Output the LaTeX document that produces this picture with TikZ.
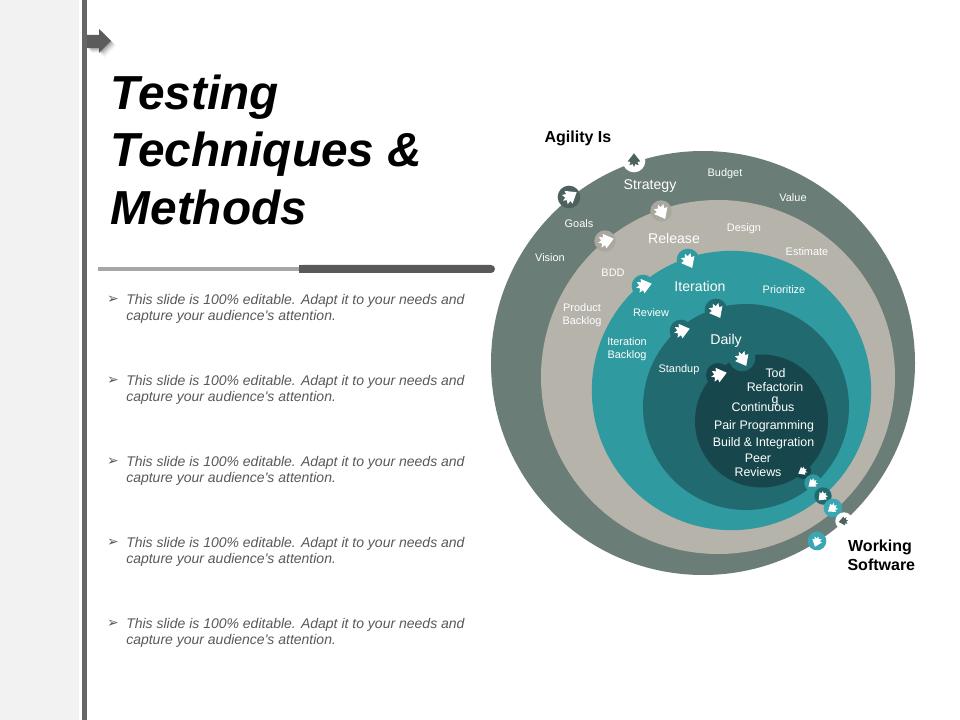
\documentclass[tikz,border=0pt]{standalone}
\usepackage{fontspec}
\setmainfont{Liberation Sans}
\newfontfamily\dejavu{DejaVu Sans}
\definecolor{ringa}{HTML}{6A7D76}
\definecolor{ringb}{HTML}{B5B3AA}
\definecolor{ringc}{HTML}{2F9A9F}
\definecolor{ringd}{HTML}{216A70}
\definecolor{ringe}{HTML}{17474C}
\definecolor{bumpa}{HTML}{4D615F}
\definecolor{bumpb}{HTML}{A9A79E}
\definecolor{bumpt}{HTML}{3AA7B5}
\definecolor{bodytxt}{HTML}{595959}
\definecolor{barcol}{HTML}{666666}
\definecolor{panelcol}{HTML}{F2F2F2}
\tikzset{
  ring/.style={circle,inner sep=0pt,outer sep=0pt,draw=none},
  bumpdisc/.style={circle,inner sep=0pt,outer sep=0pt,draw=none,minimum size=#1},
  smalllab/.style={text=white,font=\fontsize{8.2pt}{9.6pt}\selectfont,align=center,inner sep=0pt},
  biglab/.style={text=white,font=\fontsize{10.6pt}{12pt}\selectfont,align=center,inner sep=0pt},
  corelab/.style={text=white,font=\fontsize{9.3pt}{11pt}\selectfont,align=center,inner sep=0pt},
  sidelab/.style={text=black,font=\bfseries\fontsize{12pt}{14.2pt}\selectfont,align=center,inner sep=0pt},
  bodylab/.style={text=bodytxt,font=\itshape\fontsize{10.5pt}{12pt}\selectfont,align=left,inner sep=0pt,anchor=north west},
  bulletlab/.style={text=bodytxt,font=\dejavu\fontsize{10.5pt}{12pt}\selectfont,inner sep=0pt},
  titlelab/.style={text=black,font=\bfseries\itshape\fontsize{35.8pt}{43.2pt}\selectfont,align=left,inner sep=0pt,anchor=north west},
}
% name, x, y, disc colour, disc size (pt), arrow colour, direction, scale
\newcommand{\agbump}[8]{%
  \node[bumpdisc=#5,fill=#4] (#1) at (#2,#3) {};
  \begin{scope}[shift={(#2,#3)},rotate=#7,scale=#8]
    \fill[#6] (9,0) -- (-0.5,7.5) -- (-1,4) -- (-5,5.5) -- (-3.5,1.5) -- (-7,0)
      -- (-3.5,-1.5) -- (-5,-5.5) -- (-1,-4) -- (-0.5,-7.5) -- cycle;
  \end{scope}}
\begin{document}
\begin{tikzpicture}[x=0.75pt,y=-0.75pt]
\useasboundingbox (0,0) rectangle (960,720);
\fill[white] (0,0) rectangle (960,720);
\fill[panelcol,draw=none] (0,0) rectangle (79,720);
\fill[barcol] (82,0) rectangle (87,720);
% header arrow with soft shadow
\foreach \d/\o in {1/.10,2/.10,3/.08,4/.06,5/.04}{
  \fill[black,opacity=\o] (87+\d,35+\d) -- (99+\d,35+\d) -- (99+\d,29+\d) -- (111+\d,41+\d) -- (99+\d,53+\d) -- (99+\d,48+\d) -- (87+\d,48+\d) -- cycle;
}
\fill[barcol!90!black] (87,35) -- (99,35) -- (99,29) -- (111,41) -- (99,53) -- (99,48) -- (87,48) -- cycle;
% title
\node[titlelab] (title) at (110.5,74.5) {Testing\\Techniques \&\\Methods};
% divider
\fill[black!35!white] (98,267) rectangle (300,271);
\fill[bodytxt,rounded corners=3pt] (299,265) -- (495,265) -- (495,273) -- (299,273) -- cycle;
\fill[bodytxt] (299,265) rectangle (305,273);
% bullets
\foreach \n/\y in {a/291,b/372,c/453,d/534,e/615}{
  \node[bulletlab] (bul\n) at (113,\y+9) {➢};
  \node[bodylab] (txt\n) at (126,\y+3) {This slide is 100\% editable. Adapt it to your needs and\\capture your audience\textquotesingle s attention.};
}
% rings
\node[ring,fill=ringa,minimum size=318pt] (outer) at (703,363) {};
\node[ring,fill=ringb,minimum size=265.5pt] (second) at (718,377) {};
\node[ring,fill=ringc,minimum size=209.5pt] (third) at (731.5,390.5) {};
\node[ring,fill=ringd,minimum size=154.5pt] (fourth) at (746,407) {};
\node[ring,fill=ringe,minimum size=99.75pt] (core) at (761.5,421) {};
% bumps
\agbump{sa}{634}{161}{white}{17pt}{bumpa}{90}{0.85}
\agbump{sb}{569}{197}{bumpa}{17pt}{white}{32}{1}
\agbump{ra}{661}{211}{bumpb}{16pt}{white}{-62}{1}
\agbump{rb}{605}{241}{bumpb}{16pt}{white}{15}{1}
\agbump{ia}{688}{260}{ringc}{17pt}{white}{-62}{1}
\agbump{ib}{643}{286}{ringc}{17pt}{white}{15}{1}
\agbump{da}{716}{310}{ringd}{17pt}{white}{-62}{1}
\agbump{db}{681}{331}{ringd}{17pt}{white}{15}{1}
\agbump{ca}{742}{358}{ringd}{20pt}{white}{-62}{1}
\agbump{cb}{718}{375}{ringe}{18pt}{white}{15}{1}
\agbump{ea}{803}{471}{ringe}{12pt}{white}{-150}{.6}
\agbump{eb}{813}{483}{ringc}{13pt}{white}{-140}{.65}
\agbump{ec}{823}{496}{ringd}{13pt}{white}{-135}{.68}
\agbump{ed}{833}{508}{bumpt}{14pt}{white}{-145}{.68}
\agbump{ee}{844}{521}{white}{13pt}{bumpa}{-170}{.6}
\agbump{ef}{817}{541}{bumpt}{14pt}{white}{-110}{.68}
% outside labels
\node[sidelab] (agility) at (578,138) {Agility Is};
\node[sidelab] (working) at (880,555) {Working\\\hspace*{2pt}Software};
% ring labels
\node[biglab] (lstrategy) at (650,186.5) {Strategy};
\node[smalllab] (lbudget) at (725,173.5) {Budget};
\node[smalllab] (lvalue) at (793,198) {Value};
\node[smalllab] (lgoals) at (579,224) {Goals};
\node[smalllab] (lvision) at (550,258) {Vision};
\node[biglab] (lrelease) at (674,238) {Release};
\node[smalllab] (ldesign) at (744,229) {Design};
\node[smalllab] (lestimate) at (807,252) {Estimate};
\node[smalllab] (lbdd) at (613,272.5) {BDD};
\node[smalllab] (lproduct) at (582,315.5) {Product\\Backlog};
\node[biglab] (literation) at (700,286) {Iteration};
\node[smalllab] (lprioritize) at (784,289.5) {Prioritize};
\node[smalllab] (lreview) at (651,313) {Review};
\node[smalllab] (lbacklog) at (627,349.5) {Iteration\\Backlog};
\node[biglab] (ldaily) at (726,340.5) {Daily};
\node[smalllab] (lstandup) at (679,370) {Standup};
% core labels
\node[corelab] (ltod) at (775.5,373) {Tod};
\node[corelab] (lrefa) at (775,387) {Refactorin};
\node[corelab] (lrefb) at (775,401) {g};
\node[corelab] (lcont) at (763,407) {Continuous};
\node[corelab] (lpair) at (764,426) {Pair Programming};
\node[corelab] (lbuild) at (763.5,443) {Build \& Integration};
\node[corelab] (lpeer) at (758,458) {Peer};
\node[corelab] (lreviews) at (758,472) {Reviews};
\end{tikzpicture}
\end{document}
